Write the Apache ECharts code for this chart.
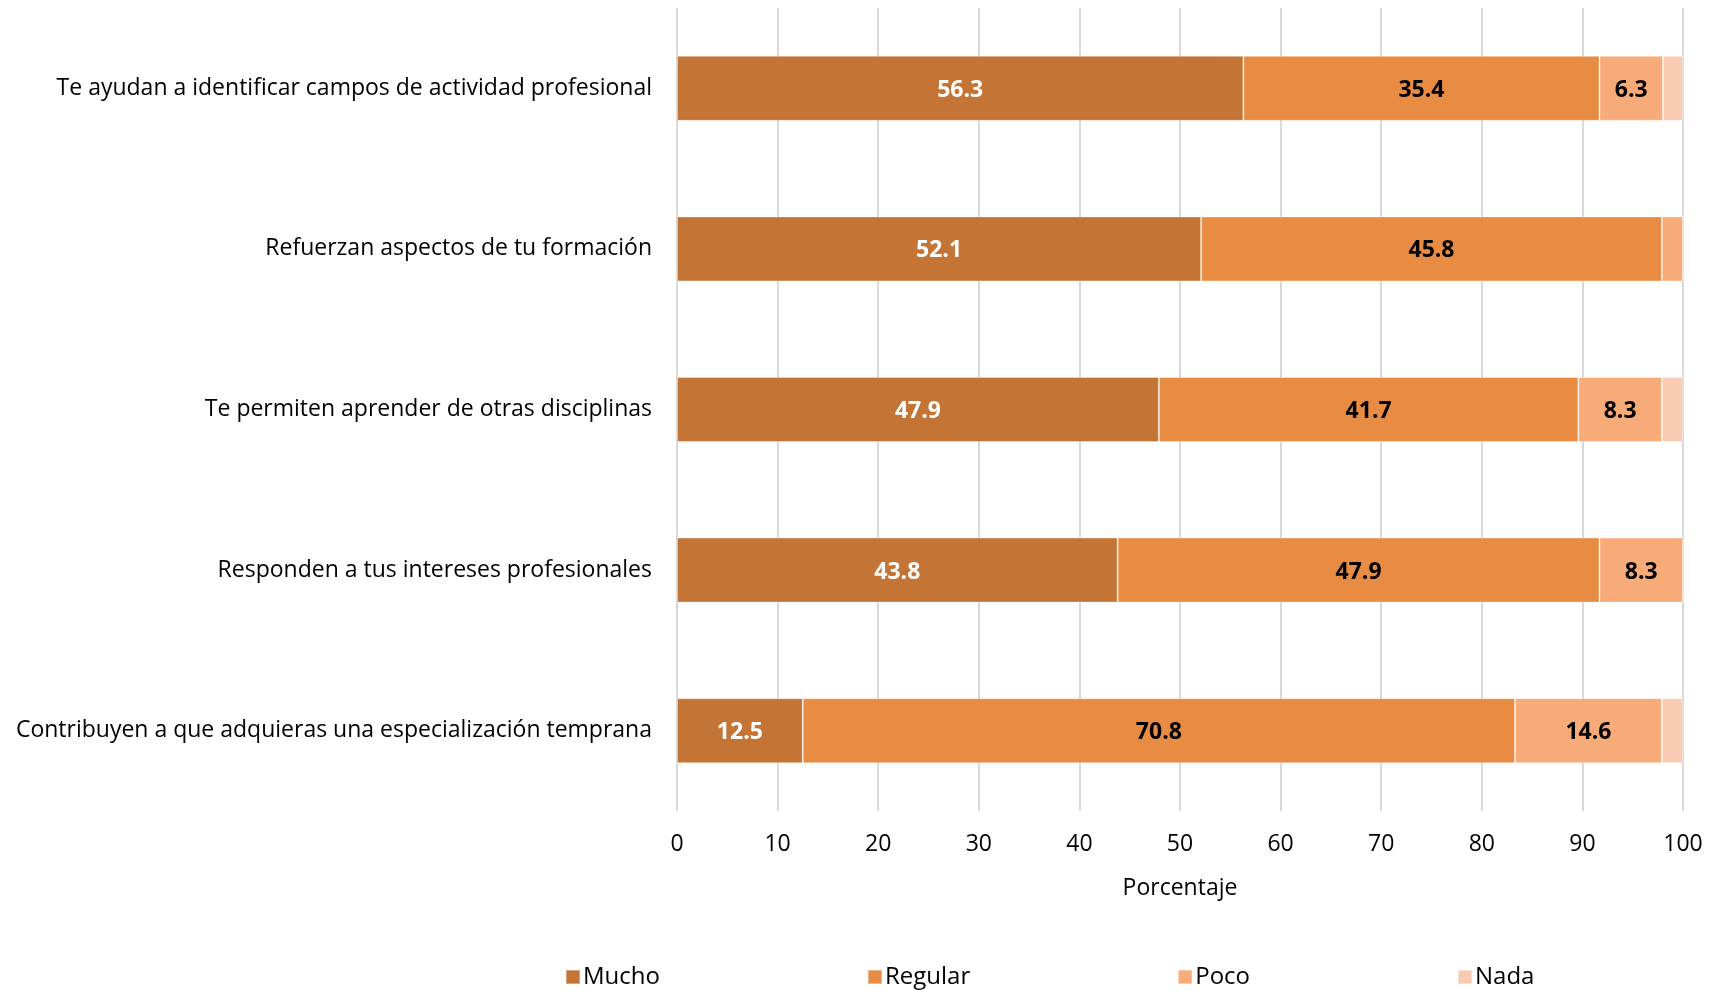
<!DOCTYPE html>
<html>
<head>
<meta charset="utf-8">
<script src="https://cdn.jsdelivr.net/npm/echarts@6/dist/echarts.min.js"></script>
<style>
  html, body { margin: 0; padding: 0; background: #fff; }
  #chart { width: 1721px; height: 990px; }
</style>
</head>
<body>
<div id="chart"></div>
<script>
const categories = [
  'Te ayudan a identificar campos de actividad profesional',
  'Refuerzan aspectos de tu formación',
  'Te permiten aprender de otras disciplinas',
  'Responden a tus intereses profesionales',
  'Contribuyen a que adquieras una especialización temprana'
];
const seriesNames = ['Mucho', 'Regular', 'Poco', 'Nada'];
const mucho = [56.3, 52.1, 47.9, 43.8, 12.5];
const regular = [35.4, 45.8, 41.7, 47.9, 70.8];
const poco = [6.3, 2.1, 8.3, 8.3, 14.6];
const nada = [2.0, 0, 2.1, 0, 2.1];
const xTicks = [0, 10, 20, 30, 40, 50, 60, 70, 80, 90, 100];

const FONT = '"Open Sans", "Noto Sans", sans-serif';
const colors = ['#C47535', '#E88B43', '#F7AB78', '#FACBB3'];
const labelColors = ['#ffffff', '#000000', '#000000', '#000000'];
const values = [mucho, regular, poco, nada];

const chart = echarts.init(document.getElementById('chart'));
chart.setOption({
  animation: false,
  color: colors,
  grid: { left: 677, right: 38, top: 8, bottom: 179, containLabel: false },
  xAxis: {
    type: 'value', min: 0, max: 100, interval: 10,
    name: 'Porcentaje', nameLocation: 'middle', nameGap: 66,
    nameTextStyle: { fontFamily: FONT, fontSize: 23, color: '#000' },
    axisLine: { show: false }, axisTick: { show: false },
    axisLabel: { fontFamily: FONT, fontSize: 23, color: '#000', margin: 22,
      formatter: v => xTicks.includes(v) ? String(v) : '' },
    splitLine: { show: true, lineStyle: { color: '#D9D9D9', width: 2 } }
  },
  yAxis: {
    type: 'category', data: categories, inverse: true,
    axisLine: { show: false }, axisTick: { show: false },
    axisLabel: { fontFamily: FONT, fontSize: 23, color: '#000', margin: 25, padding: [4, 0, 0, 0] }
  },
  legend: {
    data: seriesNames, left: 560, top: 960, itemGap: 207,
    itemWidth: 14, itemHeight: 14, icon: 'rect',
    textStyle: { fontFamily: FONT, fontSize: 24, color: '#000', padding: [0, 0, 0, -2] }
  },
  series: seriesNames.map((name, i) => ({
    name, type: 'bar', stack: 'total', barWidth: '40.5%',
    data: values[i],
    itemStyle: { color: colors[i], borderColor: 'rgba(255,255,255,0.35)', borderWidth: 1 },
    label: {
      show: i < 3, position: 'inside', offset: [0, 2], fontFamily: FONT, fontSize: 23, fontWeight: 'bold',
      color: labelColors[i],
      formatter: p => p.value > 5 ? p.value.toFixed(1) : ''
    }
  }))
});
</script>
</body>
</html>
